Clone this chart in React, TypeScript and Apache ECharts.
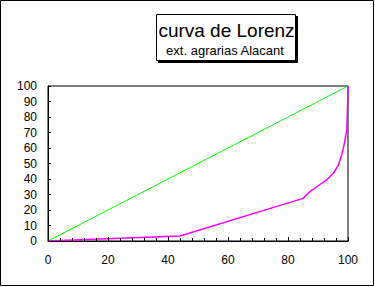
import React, { useEffect, useRef } from "react";
import * as echarts from "echarts";

const titleText = "curva de Lorenz";
const subtitleText = "ext. agrarias Alacant";

const equalityX = [0, 100];
const equalityY = [0, 100];

const lorenzX = [0, 4, 44, 85, 87.3, 89.6, 92.9, 95.1, 96.8, 97.9, 98.8, 99.6, 99.9, 100];
const lorenzY = [0, 0.4, 3.2, 27.5, 31.8, 35, 39.4, 43.7, 49, 55.5, 63, 72, 90, 100];

const font = "Liberation Sans, Arial, sans-serif";

export default function App() {
  const ref = useRef<HTMLDivElement>(null);
  useEffect(() => {
    document.body.style.margin = "0";
    const chart = echarts.init(ref.current!, null, { renderer: "svg" });
    chart.setOption({
      animation: false,
      backgroundColor: "#ffffff",
      grid: {
        left: 48,
        top: 86,
        width: 300,
        height: 155,
        show: true,
        borderColor: "#000",
        borderWidth: 1,
        backgroundColor: "transparent",
      },
      xAxis: {
        type: "value",
        min: 0,
        max: 100,
        interval: 20,
        z: 3,
        axisLine: { show: true, lineStyle: { color: "#000", width: 1 } },
        axisTick: { show: true, inside: true, length: 4, lineStyle: { color: "#000" } },
        minorTick: { show: true, splitNumber: 5, length: 3, lineStyle: { color: "#000" } },
        splitLine: { show: false },
        axisLabel: { color: "#000", fontSize: 12, fontFamily: font, margin: 13 },
      },
      yAxis: {
        type: "value",
        min: 0,
        max: 100,
        interval: 10,
        z: 3,
        axisLine: { show: true, lineStyle: { color: "#000", width: 1 } },
        axisTick: { show: true, inside: true, length: 3, lineStyle: { color: "#000" } },
        splitLine: { show: false },
        axisLabel: { color: "#000", fontSize: 12, fontFamily: font, margin: 11 },
      },
      series: [
        {
          type: "line",
          data: equalityX.map((x, i) => [x, equalityY[i]]),
          symbol: "none",
          lineStyle: { color: "#00ff00", width: 1 },
          z: 2,
        },
        {
          type: "line",
          data: lorenzX.map((x, i) => [x, lorenzY[i]]),
          symbol: "none",
          lineStyle: { color: "#ff00ff", width: 1.5 },
          z: 2,
        },
      ],
      graphic: [
        {
          type: "rect",
          shape: { x: 0.5, y: 0.5, width: 373, height: 285 },
          style: { fill: "none", stroke: "#000", lineWidth: 1 },
          silent: true,
        },
        {
          type: "rect",
          shape: { x: 158, y: 16, width: 140, height: 47 },
          style: { fill: "#000", stroke: "none" },
          silent: true,
        },
        {
          type: "rect",
          shape: { x: 156.5, y: 14.5, width: 139, height: 46 },
          style: { fill: "#fff", stroke: "#000", lineWidth: 1 },
          silent: true,
        },
        {
          type: "text",
          x: 226.5,
          y: 30,
          style: {
            text: titleText,
            fill: "#000",
            font: `19px ${font}`,
            textAlign: "center",
            textVerticalAlign: "middle",
          },
          silent: true,
        },
        {
          type: "text",
          x: 225,
          y: 50.5,
          style: {
            text: subtitleText,
            fill: "#000",
            font: `13px ${font}`,
            textAlign: "center",
            textVerticalAlign: "middle",
          },
          silent: true,
        },
      ],
    });
    return () => chart.dispose();
  }, []);
  return <div ref={ref} style={{ width: 375, height: 287 }} />;
}
